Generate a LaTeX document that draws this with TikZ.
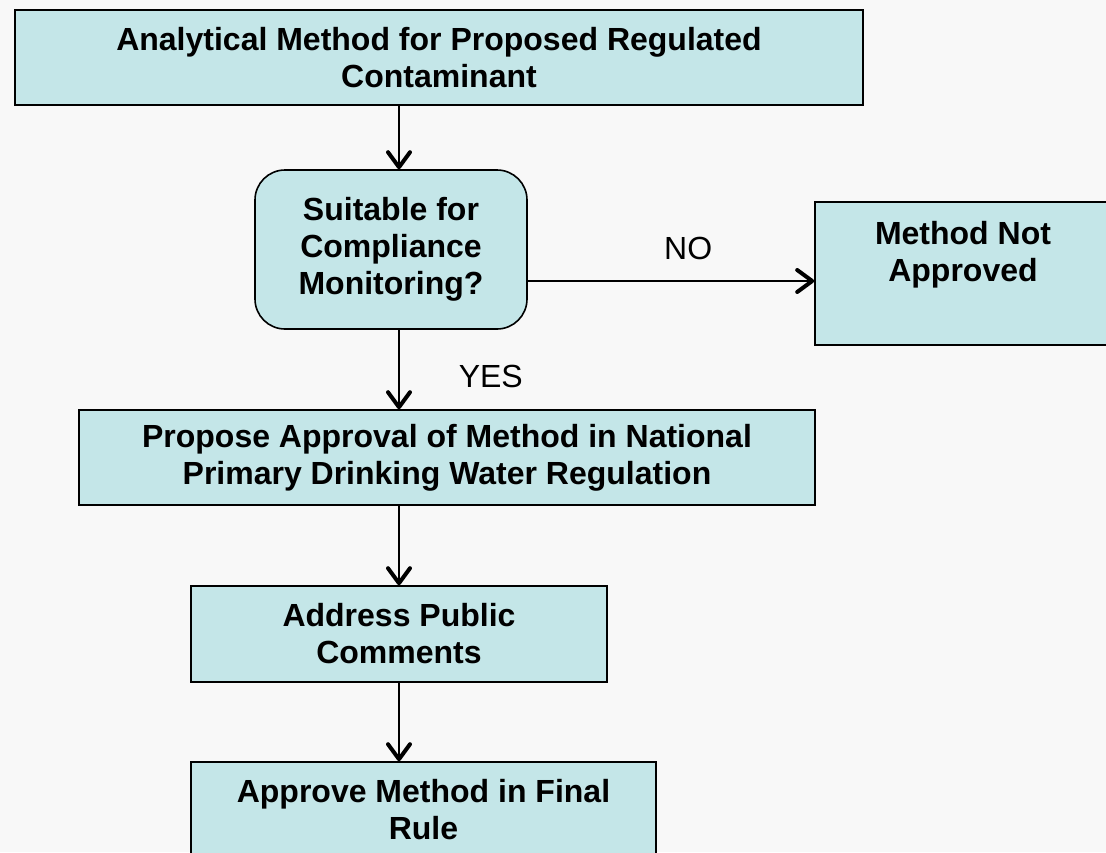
\documentclass[tikz,border=0pt]{standalone}
\usepackage{fontspec}
\setmainfont{Liberation Sans}
\usetikzlibrary{arrows.meta}
\definecolor{boxfill}{RGB}{196,230,232}
\definecolor{paper}{RGB}{248,248,248}
\begin{document}
\begin{tikzpicture}[x=1pt,y=-1pt,
    stepbox/.style={draw=black,line width=1.6pt,fill=boxfill,inner sep=0pt,align=center,
      font=\bfseries\fontsize{32}{37}\selectfont},
    answer/.style={inner sep=0pt,font=\fontsize{32}{37}\selectfont}]
  \clip (0,0) rectangle (1106,852);
  \fill[paper] (0,0) rectangle (1106,852);

  \begin{scope}[every node/.style={stepbox}]
    \node[minimum width=848pt,minimum height=95pt] (method) at (439,57.5)
      {Analytical Method for Proposed Regulated\\Contaminant};
    \node[minimum width=272pt,minimum height=159pt,rounded corners=30pt] (suitable) at (391,249.5)
      {Suitable for\\Compliance\\Monitoring?};
    \node[minimum width=296pt,minimum height=143pt] (notapproved) at (963,273.5)
      {Method Not\\Approved\\[8pt]\mbox{}};
    \node[minimum width=736pt,minimum height=95pt] (propose) at (447,457.5)
      {Propose Approval of Method in National\\Primary Drinking Water Regulation};
    \node[minimum width=416pt,minimum height=96pt] (comments) at (399,634)
      {Address Public\\Comments};
    \node[minimum width=465pt,minimum height=95pt] (finalrule) at (423.5,809.5)
      {Approve Method in Final\\Rule};
  \end{scope}

  \coordinate (spine) at (399,0);

  \begin{scope}[every edge/.style={draw=black,line width=1.6pt,
      -{Straight Barb[length=15pt,width=22pt,line width=4pt,round]}}]
    \path (method.south -| spine) edge (suitable.north -| spine);
    \path (suitable.east |- 0,281) edge node [answer,pos=0.56,above=20pt] {NO} (notapproved.west |- 0,281);
    \path (suitable.south -| spine) edge node [answer,pos=0.728,anchor=base west,xshift=59pt] {YES} (propose.north -| spine);
    \path (propose.south -| spine) edge (comments.north -| spine);
    \path (comments.south -| spine) edge (finalrule.north -| spine);
  \end{scope}
\end{tikzpicture}
\end{document}
